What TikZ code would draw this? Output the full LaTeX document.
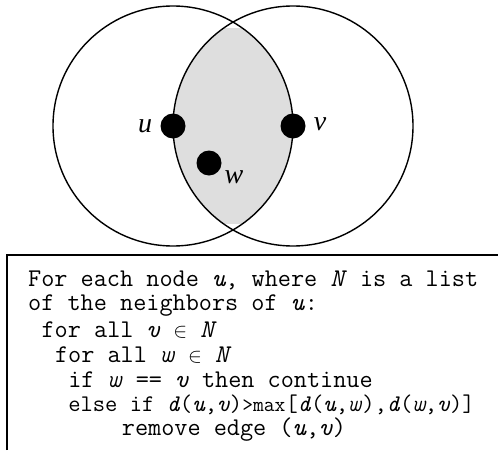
\documentclass[tikz,border=0pt]{standalone}
\usepackage{fontspec}
\setmainfont{Liberation Serif}
\definecolor{lensgray}{gray}{0.87}
\newcommand{\elm}{{\fontsize{20}{20}\selectfont$\in$}}
\begin{document}
\begin{tikzpicture}[x=1pt,y=-1pt,
  ring/.style={draw, circle, minimum size=240pt, inner sep=0pt, line width=1.4pt},
  dot/.style={fill, circle, minimum size=25pt, inner sep=0pt},
  lab/.style={inner sep=0pt, font=\fontsize{28}{28}\selectfont\itshape},
  code/.style={anchor=base west, inner sep=0pt, font=\fontsize{25.5}{28}\selectfont\ttfamily}]
\useasboundingbox (0,0) rectangle (498,450);
\begin{scope}
  \clip (173,126) circle (120pt);
  \clip (293,126) circle (120pt);
  \fill[lensgray] (150,28) rectangle (320,224);
\end{scope}
\node[ring] (cl) at (173,126) {};
\node[ring] (cr) at (293,126) {};
\node[dot] (u) at (173,126) {};
\node[dot] (v) at (293,126) {};
\node[dot] (w) at (209,163) {};
\node[lab] (lu) at (145,126) {u};
\node[lab] (lv) at (320,124) {v};
\node[lab] (lw) at (234,177) {w};
\coordinate (bl) at (7,450);
\coordinate (btl) at (7,255);
\coordinate (btr) at (498,255);
\draw[line width=2pt] (bl) -- (btl) -- (btr);
\node[code] (l1) at (28,286) {For each node \textit{u}, where \textit{N} is a list};
\node[code] (l2) at (28,310) {of the neighbors of \textit{u}:};
\node[code] (l3) at (41.4,337) {for all \textit{v} \elm{} \textit{N}};
\node[code] (l4) at (54.8,362) {for all \textit{w} \elm{} \textit{N}};
\node[code] (l5) at (68.1,387) {if \textit{w} == \textit{v} then continue};
\node[code, font=\fontsize{23.9}{26}\selectfont\ttfamily] (l6) at (68.1,411) {else if \textit{d}(\textit{u},\textit{v}){\fontsize{21}{21}\selectfont >max}[\textit{d}(\textit{u},\textit{w}),\textit{d}(\textit{w},\textit{v})]};
\node[code] (l7) at (121.7,435) {remove edge (\textit{u},\textit{v})};
\end{tikzpicture}
\end{document}
